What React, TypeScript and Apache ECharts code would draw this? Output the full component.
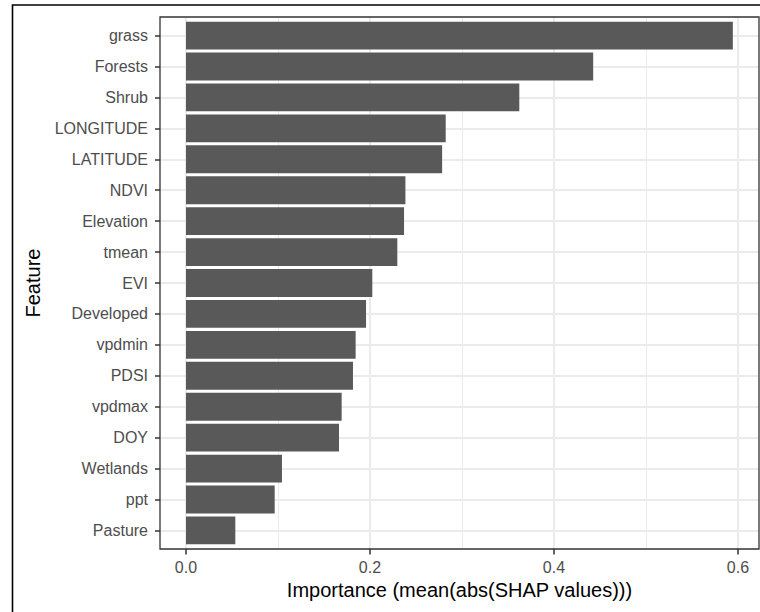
import React, { useEffect, useRef } from "react";
import * as echarts from "echarts";

const features = [
  "grass", "Forests", "Shrub", "LONGITUDE", "LATITUDE", "NDVI", "Elevation", "tmean",
  "EVI", "Developed", "vpdmin", "PDSI", "vpdmax", "DOY", "Wetlands", "ppt", "Pasture",
];
const importance = [
  0.5944, 0.4426, 0.3623, 0.2823, 0.2784, 0.2385, 0.237, 0.2297,
  0.2025, 0.1957, 0.1844, 0.1815, 0.1692, 0.1663, 0.1043, 0.0964, 0.0536,
];
const majorTicks = [0, 0.2, 0.4, 0.6];
const minorTicks = [0.1, 0.3, 0.5];
const xTitle = "Importance (mean(abs(SHAP values)))";
const yTitle = "Feature";

const FONT = "Liberation Sans, Arial, sans-serif";
const X_MIN = -0.02826;
const X_MAX = 0.62283;
const PANEL = { left: 160, top: 17, width: 599, height: 532 };

export default function App() {
  const ref = useRef<HTMLDivElement>(null);
  useEffect(() => {
    if (!ref.current) return;
    const chart = echarts.init(ref.current, undefined, { renderer: "svg" });
    const n = features.length;
    const band = PANEL.height / (n - 1 + 1.2);
    const pad = 0.1 * band;
    const catIdx = features.map((_, i) => i);
    const hidden = { show: false };
    const hiddenLine = { show: false, onZero: false };
    chart.setOption({
      animation: false,
      backgroundColor: "#ffffff",
      grid: [
        {
          left: PANEL.left,
          top: PANEL.top + pad,
          width: PANEL.width,
          height: PANEL.height - 2 * pad,
          show: false,
        },
        {
          left: PANEL.left,
          top: PANEL.top,
          width: PANEL.width,
          height: PANEL.height,
          show: true,
          borderColor: "#333333",
          borderWidth: 1.3,
          backgroundColor: "transparent",
          z: 5,
        },
      ],
      xAxis: [
        {
          gridIndex: 0,
          type: "value",
          min: X_MIN,
          max: X_MAX,
          position: "bottom",
          offset: pad,
          axisLine: hiddenLine,
          splitLine: hidden,
          axisTick: {
            show: true,
            customValues: majorTicks,
            length: 5.5,
            lineStyle: { color: "#333333", width: 1.5 },
          },
          axisLabel: {
            customValues: majorTicks,
            formatter: (v: number) => v.toFixed(1),
            fontSize: 16,
            color: "#4D4D4D",
            fontFamily: FONT,
            margin: 10,
          },
          name: xTitle,
          nameLocation: "middle",
          nameGap: 30,
          nameTextStyle: { fontSize: 20, color: "#000000", fontFamily: FONT },
        },
        {
          gridIndex: 1,
          type: "value",
          min: X_MIN,
          max: X_MAX,
          axisLine: hiddenLine,
          axisLabel: hidden,
          axisTick: { show: false, customValues: majorTicks },
          splitLine: { show: true, lineStyle: { color: "#EBEBEB", width: 2 } },
        },
        {
          gridIndex: 1,
          type: "value",
          min: X_MIN,
          max: X_MAX,
          axisLine: hiddenLine,
          axisLabel: hidden,
          axisTick: { show: false, customValues: minorTicks },
          splitLine: { show: true, lineStyle: { color: "#EBEBEB", width: 1 } },
        },
      ],
      yAxis: [
        {
          gridIndex: 0,
          type: "category",
          data: features,
          inverse: true,
          position: "left",
          axisLine: hiddenLine,
          splitLine: hidden,
          axisTick: {
            show: true,
            alignWithLabel: true,
            length: 5,
            lineStyle: { color: "#333333", width: 1.5 },
          },
          axisLabel: {
            fontSize: 16,
            color: "#4D4D4D",
            fontFamily: FONT,
            margin: 12,
          },
          name: yTitle,
          nameLocation: "middle",
          nameGap: 117,
          nameTextStyle: { fontSize: 20, color: "#000000", fontFamily: FONT },
        },
        {
          gridIndex: 1,
          type: "value",
          min: -0.6,
          max: n - 1 + 0.6,
          inverse: true,
          axisLine: hiddenLine,
          axisLabel: hidden,
          axisTick: { show: false, customValues: catIdx },
          splitLine: { show: true, lineStyle: { color: "#EBEBEB", width: 2 } },
        },
      ],
      series: [
        {
          type: "bar",
          xAxisIndex: 0,
          yAxisIndex: 0,
          data: importance,
          barWidth: "90%",
          itemStyle: { color: "#595959" },
          silent: true,
        },
      ],
      graphic: [
        {
          type: "rect",
          shape: { x: 12.5, y: 5, width: 800, height: 700 },
          style: { fill: "none", stroke: "#000000", lineWidth: 1.6 },
          silent: true,
          z: 100,
        },
      ],
    });
    return () => chart.dispose();
  }, []);
  return (
    <div
      ref={ref}
      style={{ position: "absolute", left: 0, top: 0, width: 760, height: 612 }}
    />
  );
}
